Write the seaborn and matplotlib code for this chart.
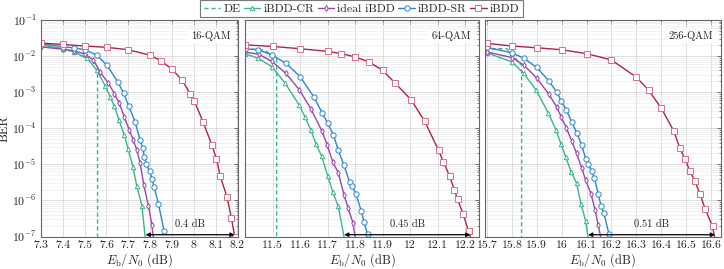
import numpy as np
import matplotlib
matplotlib.use("Agg")
import matplotlib.pyplot as plt
import matplotlib.ticker as mticker
import seaborn as sns

sns.set_style("white")
plt.rcParams["font.family"] = "serif"
plt.rcParams["font.serif"] = ["cmr10", "DejaVu Serif"]
plt.rcParams["mathtext.fontset"] = "cm"
plt.rcParams["axes.unicode_minus"] = False

# ---- data ----
# 16-QAM
qam16_de_x = [7.3, 7.45, 7.559, 7.559]
qam16_de_y = [2.1e-2, 1.35e-2, 5.6e-3, 1e-8]
qam16_cr_x = [7.3, 7.4, 7.45, 7.51, 7.555, 7.594, 7.617, 7.636, 7.658, 7.681, 7.70, 7.721, 7.739, 7.762, 7.782]
qam16_cr_y = [2.05e-2, 1.6e-2, 1.3e-2, 8.9e-3, 4.1e-3, 1.5e-3, 7.4e-4, 4.1e-4, 1.66e-4, 6.5e-5, 2.6e-5, 8.5e-6, 2.45e-6, 7.2e-7, 5e-8]
qam16_ideal_x = [7.3, 7.4, 7.45, 7.5, 7.54, 7.571, 7.609, 7.636, 7.659, 7.682, 7.705, 7.723, 7.739, 7.754, 7.771, 7.792, 7.808, 7.82]
qam16_ideal_y = [1.8e-2, 1.55e-2, 1.4e-2, 1.15e-2, 7.8e-3, 3.6e-3, 1.75e-3, 9.1e-4, 4.9e-4, 2.0e-4, 8.7e-5, 4.7e-5, 2.45e-5, 1.1e-5, 2.6e-6, 7.2e-7, 2.05e-7, 5e-8]
qam16_sr_x = [7.3, 7.4, 7.45, 7.5, 7.555, 7.603, 7.652, 7.678, 7.702, 7.731, 7.754, 7.765, 7.774, 7.783, 7.797, 7.808, 7.818, 7.838, 7.864]
qam16_sr_y = [2.25e-2, 1.8e-2, 1.7e-2, 1.5e-2, 1.07e-2, 5.5e-3, 1.9e-3, 9.5e-4, 4.1e-4, 1.5e-4, 4.7e-5, 2.9e-5, 1.55e-5, 1.0e-5, 6.5e-6, 4.0e-6, 2.35e-6, 8.1e-7, 1.4e-7]
qam16_ibdd_x = [7.3, 7.4, 7.5, 7.6, 7.7, 7.8, 7.85, 7.9, 7.945, 7.983, 8.003, 8.042, 8.083, 8.103, 8.121, 8.152, 8.172, 8.187]
qam16_ibdd_y = [2.3e-2, 2.1e-2, 1.9e-2, 1.75e-2, 1.5e-2, 1.05e-2, 7.4e-3, 4.3e-3, 2.2e-3, 9.1e-4, 5.6e-4, 1.5e-4, 3.4e-5, 1.45e-5, 4.7e-6, 1.23e-6, 3.3e-7, 1.0e-7]

# 64-QAM
qam64_de_x = [11.4, 11.47, 11.515, 11.515]
qam64_de_y = [1.6e-2, 1.47e-2, 9e-3, 1e-8]
qam64_cr_x = [11.4, 11.448, 11.499, 11.545, 11.597, 11.618, 11.639, 11.658, 11.679, 11.70, 11.719, 11.739, 11.767]
qam64_cr_y = [1.17e-2, 8.7e-3, 5.0e-3, 1.8e-3, 4.4e-4, 2.05e-4, 9.1e-5, 3.6e-5, 1.66e-5, 4.9e-6, 1.7e-6, 6.8e-7, 5e-8]
qam64_ideal_x = [11.4, 11.45, 11.498, 11.549, 11.597, 11.639, 11.679, 11.699, 11.719, 11.739, 11.76, 11.775, 11.792, 11.806]
qam64_ideal_y = [1.3e-2, 1.12e-2, 7.1e-3, 3.3e-3, 1.17e-3, 3.5e-4, 8.5e-5, 3.4e-5, 1.15e-5, 5.8e-6, 1.4e-6, 6.0e-7, 2.4e-7, 5e-8]
qam64_sr_x = [11.4, 11.448, 11.498, 11.549, 11.60, 11.65, 11.68, 11.70, 11.721, 11.739, 11.76, 11.78, 11.79, 11.803, 11.822, 11.832, 11.845]
qam64_sr_y = [1.6e-2, 1.5e-2, 1.07e-2, 6.3e-3, 2.7e-3, 7.4e-4, 2.7e-4, 1.4e-4, 6.6e-5, 2.45e-5, 9.3e-6, 3.2e-6, 2.45e-6, 1.5e-6, 5.2e-7, 2.6e-7, 1.15e-7]
qam64_ibdd_x = [11.4, 11.5, 11.6, 11.7, 11.75, 11.8, 11.852, 11.9, 11.945, 12.003, 12.053, 12.103, 12.121, 12.143, 12.161, 12.172, 12.192, 12.212, 12.231]
qam64_ibdd_y = [2.05e-2, 1.85e-2, 1.6e-2, 1.35e-2, 1.17e-2, 9.5e-3, 6.8e-3, 4.0e-3, 1.8e-3, 6.2e-4, 1.55e-4, 2.45e-5, 1.15e-5, 4.8e-6, 1.9e-6, 1.07e-6, 4.3e-7, 1.4e-7, 5e-8]

# 256-QAM
qam256_de_x = [15.69, 15.78, 15.839, 15.839]
qam256_de_y = [1.6e-2, 1.6e-2, 5.6e-3, 1e-8]
qam256_cr_x = [15.7, 15.8, 15.848, 15.898, 15.947, 15.978, 15.997, 16.017, 16.038, 16.06, 16.078, 16.096, 16.112]
qam256_cr_y = [1.23e-2, 6.9e-3, 3.3e-3, 1.12e-3, 2.6e-4, 8.7e-5, 3.7e-5, 1.55e-5, 6.2e-6, 3.0e-6, 7.8e-7, 2.75e-7, 5e-8]
qam256_ideal_x = [15.7, 15.8, 15.848, 15.899, 15.949, 15.98, 15.999, 16.019, 16.04, 16.06, 16.08, 16.096, 16.118, 16.134, 16.147, 16.165]
qam256_ideal_y = [1.3e-2, 9.1e-3, 5.6e-3, 2.5e-3, 8.7e-4, 3.9e-4, 2.0e-4, 1.02e-4, 4.5e-5, 2.0e-5, 8.1e-6, 3.7e-6, 1.5e-6, 5.5e-7, 2.05e-7, 5e-8]
qam256_sr_x = [15.7, 15.8, 15.848, 15.899, 15.949, 15.98, 15.999, 16.019, 16.04, 16.06, 16.08, 16.096, 16.107, 16.12, 16.131, 16.147, 16.158, 16.169, 16.19]
qam256_sr_y = [1.75e-2, 1.23e-2, 8.7e-3, 4.9e-3, 2.05e-3, 1.0e-3, 5.6e-4, 3.2e-4, 1.5e-4, 7.6e-5, 3.5e-5, 1.45e-5, 1.0e-5, 6.5e-6, 4.3e-6, 1.5e-6, 7.2e-7, 4.5e-7, 1.17e-7]
qam256_ibdd_x = [15.7, 15.8, 15.9, 16.0, 16.1, 16.2, 16.3, 16.35, 16.4, 16.45, 16.475, 16.496, 16.515, 16.535, 16.555, 16.576, 16.606, 16.622]
qam256_ibdd_y = [2.25e-2, 1.9e-2, 1.7e-2, 1.5e-2, 1.17e-2, 7.8e-3, 2.6e-3, 1.12e-3, 3.6e-4, 8.5e-5, 2.75e-5, 1.38e-5, 6.5e-6, 3.4e-6, 1.55e-6, 5.9e-7, 1.9e-7, 5e-8]

panel_titles = ["16-QAM", "64-QAM", "256-QAM"]
gaps = ["0.4 dB", "0.45 dB", "0.51 dB"]
gap_x = [(7.779, 8.187), (11.76, 12.219), (16.106, 16.616)]
x_limits = [(7.3, 8.2), (11.4, 12.25), (15.69, 16.64)]
x_ticks = [np.arange(7.3, 8.21, 0.1), np.arange(11.5, 12.21, 0.1), np.arange(15.7, 16.61, 0.1)]

series_names = ["DE", "iBDD-CR", "ideal iBDD", "iBDD-SR", "iBDD"]
panels = [
    [(qam16_de_x, qam16_de_y), (qam16_cr_x, qam16_cr_y), (qam16_ideal_x, qam16_ideal_y),
     (qam16_sr_x, qam16_sr_y), (qam16_ibdd_x, qam16_ibdd_y)],
    [(qam64_de_x, qam64_de_y), (qam64_cr_x, qam64_cr_y), (qam64_ideal_x, qam64_ideal_y),
     (qam64_sr_x, qam64_sr_y), (qam64_ibdd_x, qam64_ibdd_y)],
    [(qam256_de_x, qam256_de_y), (qam256_cr_x, qam256_cr_y), (qam256_ideal_x, qam256_ideal_y),
     (qam256_sr_x, qam256_sr_y), (qam256_ibdd_x, qam256_ibdd_y)],
]

green, purple, blue, red = "#3bb58f", "#9a45b0", "#2a86d1", "#b0243f"
styles = {
    "DE": dict(color=green, linestyle=(0, (3, 2))),
    "iBDD-CR": dict(color=green, marker="^", markersize=3.2, markeredgecolor=green),
    "ideal iBDD": dict(color=purple, marker="d", markersize=3.0, markeredgecolor=purple),
    "iBDD-SR": dict(color=blue, marker="o", markersize=3.8, markeredgecolor=blue),
    "iBDD": dict(color=red, marker="s", markersize=3.8, markeredgecolor="#d77088"),
}

# ---- layout in pixels (figure 724 x 269) ----
W, H = 724, 269
top_px, bot_px = 20, 236.5
panel_px = [(41, 237.5), (245, 479), (484.5, 721)]

fig = plt.figure(figsize=(W / 100, H / 100), dpi=100)
axes = []
for (l, r) in panel_px:
    axes.append(fig.add_axes([l / W, (H - bot_px) / H, (r - l) / W, (bot_px - top_px) / H]))

for i, ax in enumerate(axes):
    ax.set_yscale("log")
    for name, (xs, ys) in zip(series_names, panels[i]):
        st = styles[name]
        sns.lineplot(x=xs, y=ys, ax=ax, sort=False, estimator=None, legend=False,
                     linewidth=1.0, markerfacecolor="white", markeredgewidth=0.7,
                     label=name, **st)
    ax.set_xlim(*x_limits[i])
    ax.set_ylim(1e-7, 1e-1)
    ax.xaxis.set_major_locator(mticker.FixedLocator(x_ticks[i]))
    ax.xaxis.set_major_formatter(mticker.FuncFormatter(lambda v, p: f"{round(v, 2):g}"))
    ax.yaxis.set_major_locator(mticker.LogLocator(base=10, numticks=10))
    ax.yaxis.set_minor_locator(mticker.LogLocator(base=10, subs=np.arange(2, 10), numticks=20))
    ax.yaxis.set_minor_formatter(mticker.NullFormatter())
    ax.grid(True, which="major", color="#d4d4d4", linewidth=0.55)
    ax.grid(True, which="minor", axis="y", color="#ebebeb", linewidth=0.45)
    ax.set_axisbelow(True)
    ax.tick_params(which="both", direction="in", top=True, right=True, colors="#555555",
                   labelcolor="#222222", labelsize=8.5, pad=3)
    ax.tick_params(which="major", length=3, width=0.6)
    ax.tick_params(which="minor", length=1.6, width=0.5)
    for sp in ax.spines.values():
        sp.set_color("#666666")
        sp.set_linewidth(0.8)
    if i > 0:
        ax.tick_params(labelleft=False)
    ax.set_xlabel(r"$E_{\mathrm{b}}/N_0$ (dB)", fontsize=9, labelpad=1, color="#222222")
    ax.set_ylabel("")

    # gap arrow and label
    x0, x1 = gap_x[i]
    ax.annotate("", xy=(x0, 1.12e-7), xytext=(x1, 1.12e-7),
                arrowprops=dict(arrowstyle="<|-|>", color="black", lw=0.9,
                                mutation_scale=6, shrinkA=0, shrinkB=0))
    ax.text((x0 + x1) / 2, 1.6e-7, gaps[i], ha="center", va="bottom", fontsize=7.5,
            color="#222222")
    ax.text(0.965, 0.925, panel_titles[i], transform=ax.transAxes, ha="right", va="center",
            fontsize=7.5, color="#222222",
            bbox=dict(facecolor="white", edgecolor="none", pad=1.5))

axes[0].set_ylabel("BER", fontsize=9, labelpad=1, color="#222222")

handles, labels = axes[0].get_legend_handles_labels()
fig.legend(handles, labels, loc="upper center", bbox_to_anchor=(0.4993, 1.0), ncol=5,
           fontsize=8.5, frameon=True, fancybox=False, edgecolor="#555555",
           handlelength=1.4, handletextpad=0.25, columnspacing=0.3, borderpad=0.3,
           borderaxespad=0.0)
fig.legends[0].get_frame().set_linewidth(0.8)

fig.savefig("out.png", dpi=100)
